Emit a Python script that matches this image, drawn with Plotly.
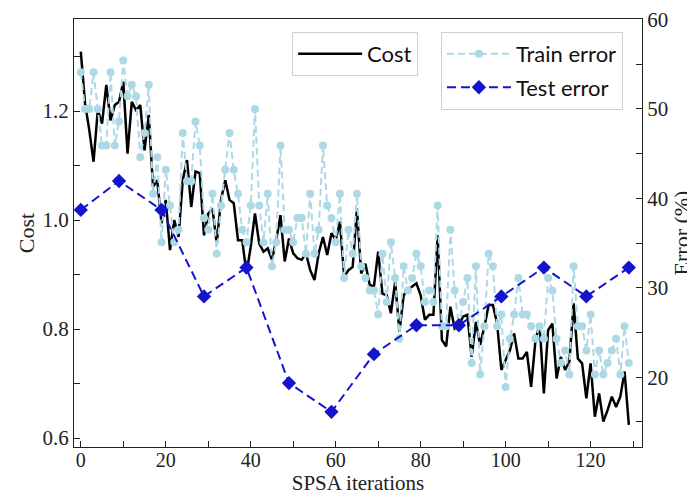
import plotly.graph_objects as go

iterations = list(range(130))

cost = [
    1.309, 1.214, 1.165, 1.107, 1.202, 1.177, 1.248, 1.183, 1.211, 1.217,
    1.254, 1.122, 1.217, 1.202, 1.211, 1.128, 1.193, 1.061, 1.073, 0.994,
    1.037, 0.945, 1.000, 0.969, 1.073, 1.110, 1.024, 1.089, 1.086, 0.972,
    1.012, 1.021, 0.957, 1.037, 1.073, 1.037, 1.031, 0.963, 0.963, 0.902,
    0.951, 1.012, 0.957, 0.942, 0.948, 0.927, 0.963, 1.009, 0.924, 0.966,
    0.939, 0.930, 0.927, 0.939, 0.908, 0.890, 0.939, 0.969, 0.936, 0.976,
    0.963, 0.997, 0.896, 0.908, 0.914, 1.021, 0.902, 0.920, 0.881, 0.878,
    0.942, 0.865, 0.862, 0.829, 0.887, 0.795, 0.862, 0.872, 0.878, 0.884,
    0.862, 0.817, 0.826, 0.826, 0.972, 0.780, 0.768, 0.841, 0.801, 0.807,
    0.823, 0.826, 0.749, 0.813, 0.771, 0.804, 0.844, 0.844, 0.810, 0.725,
    0.743, 0.761, 0.792, 0.746, 0.746, 0.758, 0.694, 0.777, 0.810, 0.682,
    0.798, 0.810, 0.709, 0.749, 0.725, 0.740, 0.847, 0.746, 0.737, 0.673,
    0.737, 0.639, 0.682, 0.630, 0.651, 0.676, 0.657, 0.676, 0.722, 0.624,
]

train_error = [
    54.1, 50.0, 50.0, 54.1, 50.0, 45.9, 45.9, 54.1, 45.9, 48.6,
    55.4, 51.4, 52.7, 51.4, 44.6, 47.3, 52.7, 40.5, 44.6, 35.1,
    43.2, 39.2, 35.1, 36.5, 47.3, 41.9, 41.9, 48.6, 45.9, 37.8,
    36.5, 40.5, 33.8, 39.2, 43.2, 47.3, 43.2, 40.5, 36.5, 35.1,
    39.2, 50.0, 39.2, 35.1, 40.5, 32.4, 35.1, 45.9, 36.5, 36.5,
    35.1, 37.8, 37.8, 33.8, 40.5, 33.8, 36.5, 45.9, 39.2, 37.8,
    35.1, 40.5, 31.1, 36.5, 33.8, 40.5, 32.4, 31.1, 29.7, 29.7,
    27.0, 33.8, 28.4, 35.1, 31.1, 24.3, 32.4, 29.7, 31.1, 33.8,
    32.4, 28.4, 29.7, 28.4, 39.2, 25.7, 25.7, 36.5, 29.7, 25.7,
    28.4, 31.1, 21.6, 32.4, 20.3, 25.7, 33.8, 32.4, 25.7, 27.0,
    18.9, 24.3, 27.0, 31.1, 27.0, 27.0, 25.7, 24.3, 25.7, 24.3,
    31.1, 29.7, 24.3, 21.6, 23.0, 20.3, 32.4, 25.7, 25.7, 23.0,
    27.0, 20.3, 23.0, 20.3, 21.6, 23.0, 24.3, 20.3, 25.7, 21.6,
]

test_iterations = [0, 9, 19, 29, 39, 49, 59, 69, 79, 89, 99, 109, 119, 129]
test_error = [38.71, 41.94, 38.71, 29.03, 32.26, 19.35, 16.13, 22.58,
              25.81, 25.81, 29.03, 32.26, 29.03, 32.26]

serif = "Liberation Serif"
sans = "Lato"

fig = go.Figure()

fig.add_trace(go.Scatter(
    x=iterations, y=cost, name="Cost", mode="lines",
    line=dict(color="black", width=2.5),
    yaxis="y", legend="legend", legendgroup="a",
))
fig.add_trace(go.Scatter(
    x=iterations, y=train_error, name="Train error", mode="lines+markers",
    line=dict(color="#add8e6", width=2, dash="7px,4px"),
    marker=dict(symbol="circle", size=8, color="#add8e6"),
    yaxis="y2", legend="legend2", legendgroup="b",
))
fig.add_trace(go.Scatter(
    x=test_iterations, y=test_error, name="Test error", mode="lines+markers",
    line=dict(color="#1414cc", width=2, dash="9px,5px"),
    marker=dict(symbol="diamond", size=11, color="#1414cc"),
    yaxis="y2", legend="legend2", legendgroup="c",
))

axis_line = dict(showline=True, linecolor="#222222", linewidth=1,
                 showgrid=False, zeroline=False, ticks="inside",
                 ticklen=6, tickcolor="#222222", tickwidth=1)

fig.update_layout(
    width=687, height=487,
    margin=dict(l=66, r=53, t=11, b=48),
    plot_bgcolor="white", paper_bgcolor="white",
    font=dict(family=serif, size=21, color="#222222"),
    xaxis=dict(
        range=[-1.6, 132.1], dtick=20, tick0=0, mirror=True,
        minor=dict(dtick=10, ticks="inside", ticklen=6, tickcolor="#222222"),
        title=dict(text="SPSA iterations", font=dict(family=serif, size=21), standoff=2),
        tickfont=dict(family=serif, size=20), automargin=False,
        ticklabelstandoff=-5,
        **axis_line,
    ),
    yaxis=dict(
        range=[0.5835, 1.369], dtick=0.2, tick0=0.6, tickformat=".1f",
        minor=dict(dtick=0.1, ticks="inside", ticklen=6, tickcolor="#222222"),
        title=dict(text="Cost", font=dict(family=serif, size=22), standoff=1),
        tickfont=dict(family=serif, size=21), automargin=False,
        **axis_line,
    ),
    yaxis2=dict(
        range=[12.2, 60.05], dtick=10, tick0=0, overlaying="y", side="right",
        minor=dict(dtick=5, ticks="inside", ticklen=6, tickcolor="#222222"),
        title=dict(text="Error (%)", font=dict(family=serif, size=22), standoff=6),
        tickfont=dict(family=serif, size=21), automargin=False,
        ticklabeloverflow="allow",
        **axis_line,
    ),
    legend=dict(
        x=0.384, y=0.97, xanchor="left", yanchor="top",
        bgcolor="rgba(255,255,255,0.85)", bordercolor="#d0d0d0", borderwidth=1,
        font=dict(family=sans, size=22, color="#111111"),
        itemwidth=64,
    ),
    legend2=dict(
        x=0.646, y=0.97, xanchor="left", yanchor="top",
        bgcolor="rgba(255,255,255,0.85)", bordercolor="#d0d0d0", borderwidth=1,
        font=dict(family=sans, size=22, color="#111111"),
        tracegroupgap=2, itemwidth=64,
    ),
    showlegend=True,
)

fig.write_html("out.html")
